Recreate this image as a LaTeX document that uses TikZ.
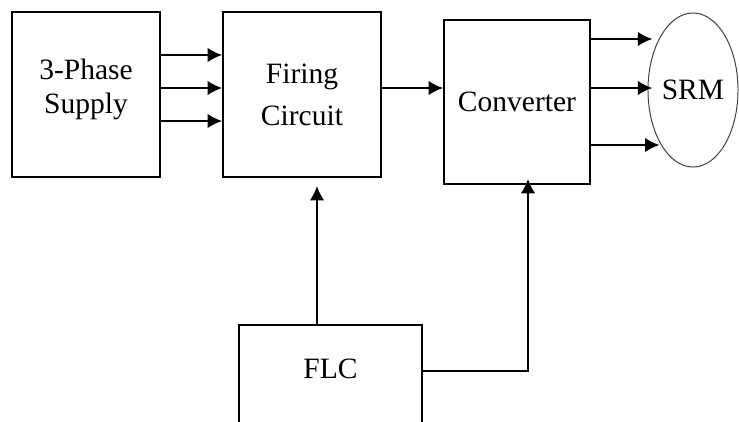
\documentclass[tikz,border=0pt]{standalone}
\usepackage{fontspec}
\setmainfont{Liberation Serif}
\usetikzlibrary{arrows.meta,positioning,shapes.geometric}

\begin{document}
\begin{tikzpicture}[x=0.025cm,y=-0.025cm,
  blk/.style={draw,line width=1.3pt,font=\fontsize{21}{24}\selectfont,align=center},
  arr/.style={-{Latex[length=0.36cm,width=0.36cm]},line width=1.3pt}]
\useasboundingbox (0,0) rectangle (739,422);
\clip (0,0) rectangle (739,422);
\node[blk,minimum width=3.7cm,minimum height=4.125cm,text depth=0.4cm] (sup) at (86,94.5) {3-Phase\\ Supply};
\node[blk,minimum width=3.95cm,minimum height=4.125cm] (fire) at (302,94.5) {Firing\\[0.2cm] Circuit};
\node[blk,minimum width=3.65cm,minimum height=4.1cm] (conv) at (517,102) {Converter};
\node[blk,ellipse,line width=0.7pt,draw=black!75,inner sep=0pt,minimum width=2.25cm,minimum height=3.85cm] (srm) at (693,90) {SRM};
\node[blk,minimum width=4.575cm,minimum height=2.75cm,text depth=0.55cm] (flc) at (330.5,380) {FLC};
\foreach \y in {55,88,121}{
  \draw[arr] (sup.east |- 0,\y) -- (fire.west |- 0,\y);}
\draw[arr] (fire.east |- 0,88) -- (conv.west |- 0,88);
\foreach \y/\ext in {39/0.12,88/0.12,145/0.3}{
  \draw[arr,shorten >=-\ext cm] (conv.east |- 0,\y) -- (srm.west |- 0,\y);}
\draw[arr,shorten >=0.2cm] (flc.north -| 317,0) -- (fire.south -| 317,0);
\draw[arr,shorten >=-0.15cm] (flc.east |- 0,371) -| (conv.south -| 528,0);
\end{tikzpicture}
\end{document}
